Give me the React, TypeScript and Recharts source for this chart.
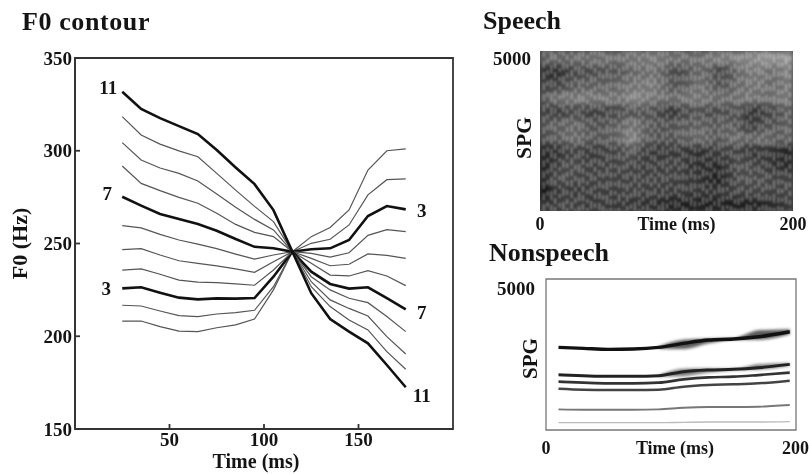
import {
  Bar,
  Cell,
  ComposedChart,
  Area,
  Label,
  Line,
  LineChart,
  ReferenceArea,
  ReferenceLine,
  XAxis,
  YAxis,
} from 'recharts';

const SERIF = '"Liberation Serif", "Times New Roman", serif';
const INK = '#141414';

/* ---- F0 contour values ---- */
const times = [25, 35, 45, 55, 65, 75, 85, 95, 105, 115, 125, 135, 145, 155, 165, 175];
const c1 = [208.2, 208.2, 205.2, 202.8, 202.5, 204.6, 206.1, 209.3, 225, 245.6, 253.7, 258.6, 268.1, 289.6, 300, 301];
const c2 = [216.7, 216.3, 213.6, 211.1, 210.6, 212, 212.7, 214, 226.7, 245.6, 250.1, 252.3, 260, 276.2, 284.4, 284.8];
const c3 = [225.8, 226.4, 223.5, 220.8, 219.9, 220.4, 220.3, 220.6, 232.1, 245.6, 246.9, 247.4, 251.9, 264.8, 270.2, 268.4];
const c4 = [235.7, 236.3, 233.4, 230.3, 229.2, 228.9, 228.2, 227.5, 235.7, 245.6, 244.7, 242.7, 245, 254.4, 257.5, 256.4];
const c5 = [246.7, 247.2, 243.8, 240.7, 239.3, 237.9, 236.3, 234.5, 240.2, 245.6, 242, 238, 238.8, 244.4, 243.6, 242];
const c6 = [259.6, 258.4, 254.9, 251.9, 249.7, 247.2, 244.3, 241.6, 243.8, 245.6, 239.3, 233, 232.5, 235.4, 232.5, 227.3];
const c7 = [275.2, 270.4, 265.9, 263.2, 260.5, 256.9, 252.4, 248.2, 247.4, 245.6, 234.8, 228.2, 225.7, 226.4, 220.5, 214.5];
const c8 = [291.8, 282.4, 278.5, 274.9, 271.7, 266.3, 260.3, 256, 253.7, 245.6, 232.1, 225, 220.5, 218.1, 210.6, 202.5];
const c9 = [304.4, 295, 290.7, 287.8, 283.7, 276.7, 269.5, 263, 257.3, 245.6, 229.4, 219.6, 215, 210.9, 199.8, 190.4];
const c10 = [318.4, 308.5, 303.6, 299.9, 296.8, 287.8, 278.8, 270, 261.8, 245.6, 226.7, 216, 208.8, 203.4, 191.7, 182.2];
const c11 = [331.8, 322.5, 317.6, 313.3, 309, 300.4, 291, 282, 268, 245.6, 223.2, 209.3, 202.5, 196.2, 184.5, 172.5];
const contours = [c1, c2, c3, c4, c5, c6, c7, c8, c9, c10, c11];
const boldContours = [3, 7, 11];
const f0Data = times.map((t, i) => {
  const row: Record<string, number> = { t };
  contours.forEach((c, k) => (row[`c${k + 1}`] = c[i]));
  return row;
});

/* ---- Speech spectrogram: grey level per band (top to bottom) and time column ---- */
const spgBands = [
  [95, 105, 100, 105, 105, 110, 110, 105, 110, 115, 115, 120, 115, 110, 110, 105, 110, 115, 125, 120, 130, 130, 140, 145, 140, 155],
  [50, 40, 55, 70, 70, 75, 80, 80, 85, 100, 105, 110, 100, 75, 70, 90, 100, 90, 65, 80, 105, 115, 120, 110, 110, 130],
  [65, 60, 75, 85, 90, 95, 90, 95, 105, 110, 115, 120, 105, 85, 80, 95, 110, 95, 80, 90, 105, 110, 115, 105, 105, 120],
  [85, 105, 115, 115, 120, 115, 115, 115, 115, 130, 125, 115, 110, 105, 110, 115, 115, 110, 105, 105, 110, 115, 110, 105, 115, 120],
  [65, 55, 65, 70, 65, 60, 65, 65, 75, 80, 80, 80, 65, 50, 65, 75, 80, 70, 75, 75, 80, 50, 50, 65, 75, 95],
  [80, 90, 95, 100, 90, 80, 80, 90, 100, 115, 100, 85, 80, 80, 85, 90, 95, 85, 90, 90, 80, 55, 65, 80, 80, 95],
  [75, 85, 95, 105, 95, 85, 85, 90, 105, 130, 100, 85, 80, 80, 90, 95, 105, 95, 85, 100, 105, 95, 105, 100, 90, 100],
  [35, 45, 55, 65, 60, 55, 60, 65, 75, 85, 65, 55, 50, 55, 55, 50, 45, 55, 60, 65, 65, 50, 50, 50, 40, 35],
  [30, 55, 70, 75, 65, 65, 65, 65, 70, 65, 60, 60, 60, 65, 65, 50, 45, 45, 40, 60, 75, 70, 65, 55, 45, 40],
  [40, 70, 75, 70, 65, 65, 65, 65, 65, 65, 65, 65, 65, 65, 60, 55, 50, 35, 30, 55, 75, 75, 75, 70, 65, 65],
  [15, 50, 60, 55, 60, 60, 60, 60, 65, 65, 65, 60, 60, 55, 60, 55, 55, 50, 55, 60, 65, 65, 70, 65, 65, 70],
  [50, 60, 65, 65, 60, 55, 60, 55, 55, 50, 50, 45, 40, 30, 30, 30, 30, 30, 30, 30, 30, 30, 35, 40, 45, 55],
];
const spgColumns = spgBands[0].map((_, col) => {
  const row: Record<string, number> = { col };
  spgBands.forEach((_, b) => (row[`b${b}`] = 1));
  return row;
});
const pulseTimes = [
  3, 6, 9, 12, 15.5, 18.5, 21.5, 25, 28, 31, 34, 37.5, 40.5, 43.5, 47, 50, 53, 56, 59.5, 62.5, 66, 69, 72, 75, 78.5, 81.5,
  85, 88, 91, 94, 97, 100.5, 103.5, 107, 110, 113, 116, 119.5, 122.5, 126, 129, 132, 135, 138, 141.5, 144.5, 148, 151, 154,
  157, 160, 163.5, 166.5, 170, 173, 176, 179, 182, 185, 188.5, 191.5, 194.5, 197.5,
];
const speckleOffsets = [0, 7, 3, 11, 5, 13, 2, 9, 14, 4, 8, 1, 12, 6, 10];
const speckleDashes = ['7 4', '5 6', '9 5', '6 3', '4 5', '8 6', '5 4'];

/* ---- Nonspeech formant tracks ---- */
const nsTimes = [10, 30, 50, 70, 90, 110, 130, 150, 170, 195];
const f1 = [243, 243, 243, 243, 243, 254, 265, 265, 265, 276];
const f2 = [684, 673, 673, 673, 684, 739, 761, 761, 772, 827];
const f3 = [1368, 1335, 1324, 1324, 1335, 1434, 1489, 1511, 1544, 1632];
const f4 = [1599, 1566, 1544, 1544, 1566, 1677, 1743, 1765, 1820, 1897];
const f5 = [1831, 1798, 1776, 1776, 1798, 1930, 1986, 2008, 2063, 2173];
const f6 = [2735, 2702, 2669, 2680, 2735, 2868, 2978, 3011, 3089, 3254];
const smear5Low = [null, null, null, null, 1770, 1780, 1900, 1980, 2000, 2130];
const smear5High = [null, null, null, null, 1810, 2030, 2040, 2030, 2180, 2210];
const smear6Low = [null, null, null, null, 2700, 2680, 2870, 2990, 2990, 3170];
const smear6High = [null, null, null, null, 2760, 2990, 3020, 3040, 3300, 3340];
const nsData = nsTimes.map((t, i) => ({
  t,
  f1: f1[i],
  f2: f2[i],
  f3: f3[i],
  f4: f4[i],
  f5: f5[i],
  f6: f6[i],
  smear5: smear5Low[i] === null ? null : [smear5Low[i], smear5High[i]],
  smear6: smear6Low[i] === null ? null : [smear6Low[i], smear6High[i]],
}));

const boldText = { fontFamily: SERIF, fontWeight: 'bold' as const, fill: INK };
const tickStyle = { ...boldText, fontSize: 19 };

function Title({ x, y, spacing, children }: any) {
  return (
    <div
      style={{
        position: 'absolute',
        left: x,
        top: y,
        fontFamily: SERIF,
        fontWeight: 'bold',
        fontSize: 26,
        letterSpacing: spacing || 0,
        lineHeight: '28px',
        color: INK,
        whiteSpace: 'nowrap',
      }}
    >
      {children}
    </div>
  );
}

const endLabels: any = {
  c3: { left: [-16, 0], right: [16, 1] },
  c7: { left: [-15, -3], right: [16, 3] },
  c11: { left: [-14, -4], right: [16, 8] },
};

function contourLabel(key: string, text: string) {
  return (props: any) => {
    const { x, y, index } = props;
    const off = index === 0 ? endLabels[key].left : index === times.length - 1 ? endLabels[key].right : null;
    if (!off) return null;
    return (
      <text
        key={index}
        x={x + off[0]}
        y={y + off[1]}
        textAnchor="middle"
        dominantBaseline="central"
        fontSize={19}
        fontFamily={SERIF}
        fontWeight="bold"
        fill={INK}
      >
        {text}
      </text>
    );
  };
}

function F0Chart() {
  return (
    <div style={{ position: 'absolute', left: 0, top: 0 }}>
      <LineChart width={480} height={474} data={f0Data} margin={{ top: 58, right: 27, left: 15, bottom: 0 }}>
        <XAxis
          dataKey="t"
          type="number"
          domain={[0, 200]}
          ticks={[50, 100, 150]}
          height={45}
          stroke="#333"
          strokeWidth={1.8}
          tickSize={-5}
          tickMargin={9}
          tick={tickStyle}
        >
          <Label value="Time (ms)" position="insideBottom" offset={6} dx={-8} style={{ ...boldText, fontSize: 20 }} />
        </XAxis>
        <YAxis
          type="number"
          domain={[150, 350]}
          ticks={[150, 200, 250, 300, 350]}
          width={60}
          stroke="#333"
          strokeWidth={1.8}
          tickSize={-5}
          tickMargin={8}
          tick={tickStyle}
        >
          <Label value="F0 (Hz)" angle={-90} position="insideLeft" offset={4} style={{ ...boldText, fontSize: 22, textAnchor: 'middle' }} />
        </YAxis>
        <ReferenceArea x1={0} x2={200} y1={150} y2={350} fill="none" stroke="#333" strokeWidth={1.8} />
        {contours.map((_, k) => {
          const n = k + 1;
          const bold = boldContours.includes(n);
          return (
            <Line
              key={n}
              dataKey={`c${n}`}
              type="linear"
              dot={false}
              stroke={bold ? '#111' : '#555'}
              strokeWidth={bold ? 2.6 : 1.2}
              isAnimationActive={false}
              label={bold ? contourLabel(`c${n}`, String(n)) : false}
            />
          );
        })}
      </LineChart>
    </div>
  );
}

function SpeechChart() {
  return (
    <>
      <div style={{ position: 'absolute', left: 540, top: 51, width: 253, height: 160, overflow: 'hidden', background: '#444' }}>
        <div className="spg-soft" style={{ position: 'absolute', left: 0, top: 0 }}>
          <ComposedChart width={253} height={160} data={spgColumns} barCategoryGap={0} margin={{ top: 0, right: 0, left: 0, bottom: 0 }}>
            <XAxis dataKey="col" hide />
            <YAxis hide domain={[0, spgBands.length]} />
            {spgBands
              .map((band, b) => ({ band, b }))
              .reverse()
              .map(({ band, b }) => (
                <Bar key={b} dataKey={`b${b}`} stackId="spg" isAnimationActive={false}>
                  {band.map((g, i) => (
                    <Cell key={i} fill={`rgb(${g},${g},${g})`} stroke={`rgb(${g},${g},${g})`} />
                  ))}
                </Bar>
              ))}
          </ComposedChart>
        </div>
        <div style={{ position: 'absolute', left: 0, top: 0, filter: 'blur(0.9px)' }}>
          <ComposedChart width={253} height={160} data={spgColumns} margin={{ top: 0, right: 0, left: 0, bottom: 0 }}>
            <XAxis type="number" dataKey="col" domain={[0, 200]} hide />
            <YAxis type="number" domain={[0, 5000]} hide />
            <Line dataKey="b0" stroke="none" dot={false} isAnimationActive={false} />
            {pulseTimes.map((p, i) => (
              <ReferenceLine
                key={p}
                x={p}
                stroke="#fff"
                strokeOpacity={0.4}
                strokeWidth={1.7}
                strokeDasharray={speckleDashes[i % speckleDashes.length]}
                strokeDashoffset={speckleOffsets[i % speckleOffsets.length]}
              />
            ))}
          </ComposedChart>
        </div>
      </div>
      <div style={{ position: 'absolute', left: 480, top: 0 }}>
        <ComposedChart width={329} height={240} data={spgColumns} margin={{ top: 51, right: 16, left: 10, bottom: 0 }}>
          <XAxis
            type="number"
            dataKey="col"
            domain={[0, 200]}
            ticks={[0, 200]}
            height={29}
            axisLine={false}
            tickLine={false}
            tickMargin={0}
            tick={{ ...tickStyle, fontSize: 18 }}
          >
            <Label value="Time (ms)" position="insideBottom" offset={10} dx={10} style={{ ...boldText, fontSize: 18 }} />
          </XAxis>
          <YAxis
            type="number"
            domain={[0, 5000]}
            ticks={[5000]}
            width={50}
            axisLine={false}
            tickLine={false}
            tickMargin={3}
            tick={{ ...tickStyle, fontSize: 19, dy: 7 }}
          >
            <Label value="SPG" angle={-90} position="insideLeft" offset={33} dy={7} style={{ ...boldText, fontSize: 21.5, textAnchor: 'middle' }} />
          </YAxis>
          <Line dataKey="b0" stroke="none" dot={false} isAnimationActive={false} />
        </ComposedChart>
      </div>
    </>
  );
}

function NonspeechChart() {
  return (
    <div className="ns-soft" style={{ position: 'absolute', left: 480, top: 240 }}>
      <ComposedChart width={329} height={234} data={nsData} margin={{ top: 39, right: 13, left: 10, bottom: 0 }}>
        <XAxis
          type="number"
          dataKey="t"
          domain={[0, 200]}
          ticks={[0, 200]}
          height={44}
          axisLine={false}
          tickLine={false}
          tickMargin={5}
          tick={{ ...tickStyle, fontSize: 18 }}
        >
          <Label value="Time (ms)" position="insideBottom" offset={20} dx={4} style={{ ...boldText, fontSize: 18 }} />
        </XAxis>
        <YAxis
          type="number"
          domain={[0, 5000]}
          ticks={[5000]}
          width={56}
          axisLine={false}
          tickLine={false}
          tickMargin={5}
          tick={{ ...tickStyle, fontSize: 19, dy: 9 }}
        >
          <Label value="SPG" angle={-90} position="insideLeft" offset={40} dy={4} style={{ ...boldText, fontSize: 21, textAnchor: 'middle' }} />
        </YAxis>
        <ReferenceArea x1={0} x2={200} y1={0} y2={5000} fill="none" stroke="#777" strokeWidth={1.3} />
        <Area dataKey="smear6" type="monotone" stroke="none" fill="#222" fillOpacity={0.75} isAnimationActive={false} />
        <Area dataKey="smear5" type="monotone" stroke="none" fill="#333" fillOpacity={0.65} isAnimationActive={false} />
        <Line dataKey="f1" type="monotone" dot={false} stroke="#bbb" strokeWidth={1.4} isAnimationActive={false} />
        <Line dataKey="f2" type="monotone" dot={false} stroke="#777" strokeWidth={1.9} isAnimationActive={false} />
        <Line dataKey="f3" type="monotone" dot={false} stroke="#444" strokeWidth={2.5} isAnimationActive={false} />
        <Line dataKey="f4" type="monotone" dot={false} stroke="#333" strokeWidth={2.7} isAnimationActive={false} />
        <Line dataKey="f5" type="monotone" dot={false} stroke="#222" strokeWidth={3} isAnimationActive={false} />
        <Line dataKey="f6" type="monotone" dot={false} stroke="#111" strokeWidth={3.4} isAnimationActive={false} />
      </ComposedChart>
    </div>
  );
}

export default function App() {
  return (
    <div style={{ position: 'absolute', left: 0, top: 0, width: 809, height: 474, background: '#fff', overflow: 'hidden', filter: 'blur(0.3px)' }}>
      <style>{`
        .spg-soft { filter: blur(3px); }
        .ns-soft .recharts-area { filter: blur(1.5px); }
        .ns-soft .recharts-line { filter: blur(0.4px); }
      `}</style>
      <Title x={22} y={8} spacing={0.6}>F0 contour</Title>
      <Title x={483} y={7}>Speech</Title>
      <Title x={489} y={239}>Nonspeech</Title>
      <F0Chart />
      <SpeechChart />
      <NonspeechChart />
    </div>
  );
}
